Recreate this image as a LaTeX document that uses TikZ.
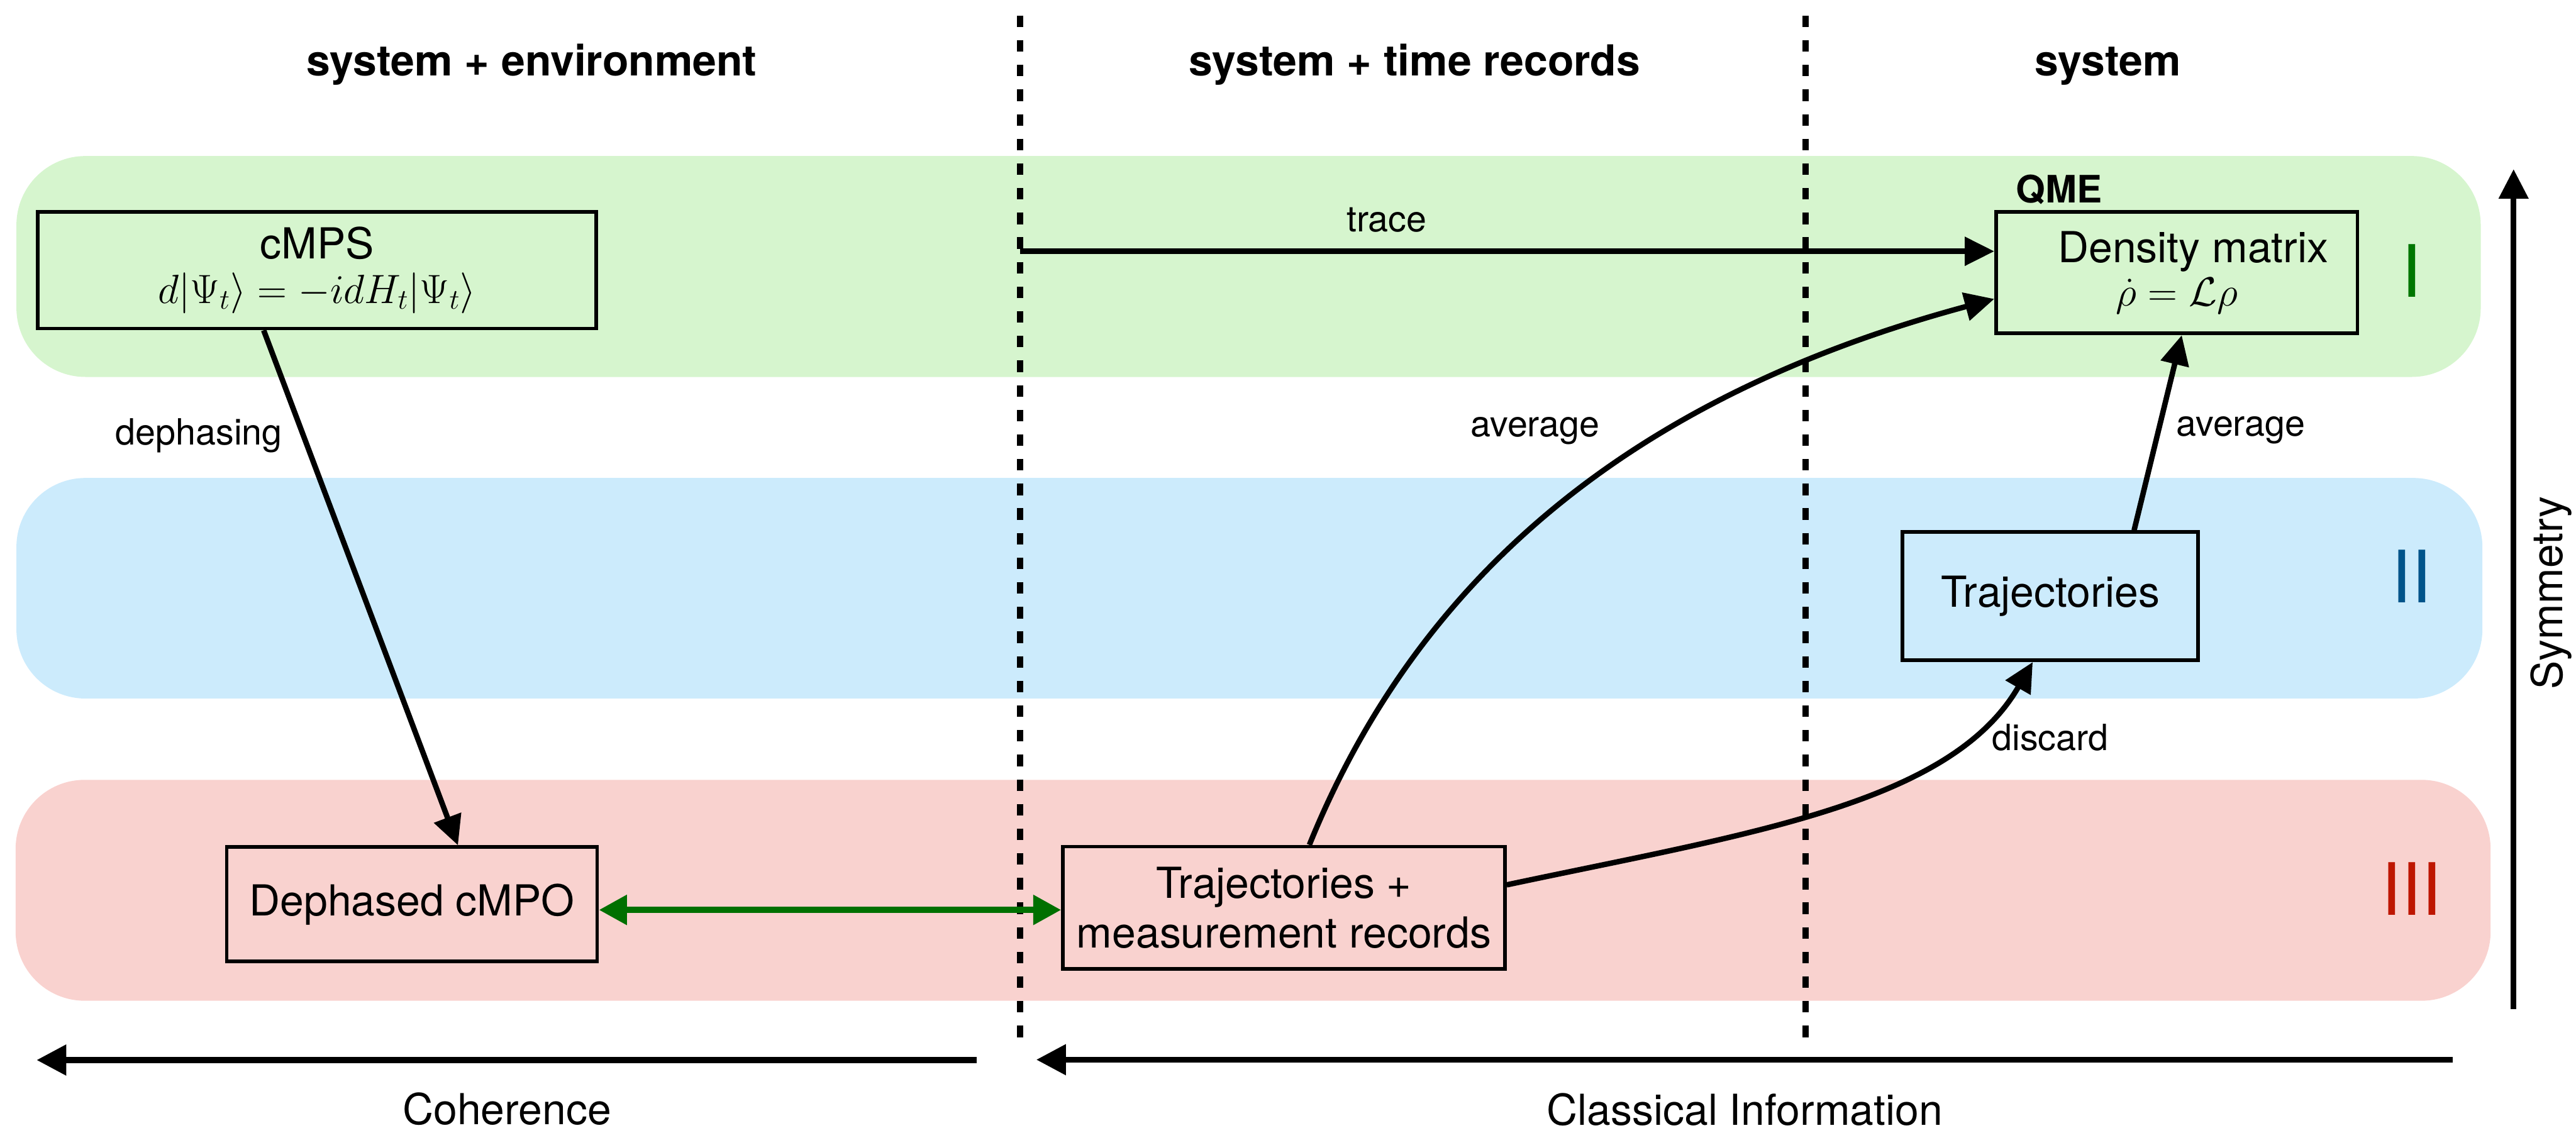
\documentclass[tikz,border=0pt]{standalone}
\usepackage[no-math]{fontspec}
\newfontfamily\hv{TeX Gyre Heros}
\usetikzlibrary{arrows.meta,calc}

\definecolor{bandgreen}{RGB}{214,245,206}
\definecolor{bandblue}{RGB}{204,235,252}
\definecolor{bandred}{RGB}{249,210,207}
\definecolor{numgreen}{RGB}{0,118,0}
\definecolor{numblue}{RGB}{0,84,138}
\definecolor{numred}{RGB}{190,22,0}
\definecolor{linkgreen}{RGB}{0,112,0}

\begin{document}
\begin{tikzpicture}[x=1pt,y=-1pt,
  band/.style={rounded corners=42pt},
  statebox/.style={draw=black,line width=2.2pt,inner sep=0pt,align=center,
    font=\hv\fontsize{26}{30}\selectfont},
  header/.style={font=\hv\bfseries\fontsize{26}{30}\selectfont,anchor=base,inner sep=0pt},
  lbl/.style={font=\hv\fontsize{22}{26}\selectfont,anchor=base,inner sep=0pt},
  axislbl/.style={font=\hv\fontsize{26}{30}\selectfont,anchor=base,inner sep=0pt},
  numeral/.style={font=\hv\fontsize{44}{50}\selectfont,inner sep=0pt},
  flow/.style={line width=3.3pt,-{Triangle[length=18pt,width=17pt]}},
  axis/.style={line width=3.6pt,-{Triangle[length=18pt,width=18pt]}},
  divider/.style={line width=3.7pt,dash pattern=on 7pt off 8pt},
  twoway/.style={line width=3.8pt,draw=linkgreen,
    {Triangle[length=17pt,width=17.5pt]}-{Triangle[length=17pt,width=17.5pt]}}
]
\useasboundingbox (0,0) rectangle (1568,689.7);

% symmetry levels
\fill[bandgreen,band] (10,95) rectangle (1510,229.5);
\fill[bandblue,band] (10,291) rectangle (1511,425.3);
\fill[bandred,band] (9.5,474.8) rectangle (1516,609.3);

% column dividers
\coordinate (d1top) at (620.8,9.5);
\coordinate (d1bot) at (620.8,633);
\coordinate (d2top) at (1099,9.5);
\coordinate (d2bot) at (1099,633);
\draw[divider] (d1top) -- (d1bot);
\draw[divider] (d2top) -- (d2bot);

% column headers
\node[header] (h1) at (323.6,46) {system + environment};
\node[header] (h2) at (861,46) {system + time records};
\node[header] (h3) at (1283,46) {system};

% descriptions
\node[statebox,minimum width=340pt,minimum height=71pt] (cmps) at (193,164.5)
  {cMPS\\[-3pt]$d|\Psi_t\rangle=-idH_t|\Psi_t\rangle$};
\node[statebox,minimum width=220pt,minimum height=74pt] (dm) at (1325,166)
  {\hspace*{20pt}Density matrix\\[-3.5pt]$\dot\rho=\mathcal{L}\rho$};
\node[font=\hv\bfseries\fontsize{23}{26}\selectfont,anchor=base west,inner sep=0pt]
  (qme) at (1227,123.5) {QME};
\node[statebox,minimum width=180pt,minimum height=78pt] (traj) at (1248,363) {Trajectories};
\node[statebox,minimum width=269pt,minimum height=74.5pt] (tm) at (781.5,552.75)
  {Trajectories +\\measurement records};
\node[statebox,minimum width=225.5pt,minimum height=69.5pt] (dc) at (250.75,550.5)
  {Dephased cMPO};

% level numerals
\node[numeral,text=numgreen] (nI) at (1468,165) {I};
\node[numeral,text=numblue] (nII) at (1468,351) {II};
\node[numeral,text=numred] (nIII) at (1468,541) {III};

% maps between descriptions
\draw[flow] ([xshift=-32.5pt]cmps.south) -- ([xshift=28pt]dc.north);
\node[lbl] (ldeph) at (121,271) {dephasing};

\coordinate (tracestart) at (620.8,153);
\draw[flow] (tracestart) -- (tracestart -| dm.west);
\node[lbl] (ltrace) at (844,140.9) {trace};

\draw[flow] ([xshift=15.5pt]tm.north) .. controls +(75,-185) and +(-193,52) .. ([yshift=-16pt]dm.west);
\node[lbl] (lavg1) at (934.5,266) {average};

\draw[flow] ([xshift=51pt]traj.north) -- ([xshift=3pt]dm.south);
\node[lbl] (lavg2) at (1364,265.6) {average};

\draw[flow] ([yshift=14pt]tm.east) .. controls +(146.7,-31.2) and +(-50,86.6) .. ([xshift=-10.7pt]traj.south);
\node[lbl] (ldisc) at (1248,456.8) {discard};

\coordinate (gl) at ([yshift=-3.5pt]dc.east);
\draw[twoway] (gl) -- (gl -| tm.west);

% axes
\coordinate (cohfrom) at (594.4,645.4);
\coordinate (cohto) at (22.3,645.4);
\draw[axis] (cohfrom) -- (cohto);
\node[axislbl] (lcoh) at (308.6,684.6) {Coherence};

\coordinate (clsfrom) at (1493,645.2);
\coordinate (clsto) at (630.8,645.2);
\draw[axis] (clsfrom) -- (clsto);
\node[axislbl] (lcls) at (1062,685) {Classical Information};

\coordinate (symfrom) at (1530,614.3);
\coordinate (symto) at (1530,103);
\draw[line width=3.4pt,-{Triangle[length=18pt,width=17.5pt]}] (symfrom) -- (symto);
\node[axislbl,rotate=90] (lsym) at (1559.7,361) {Symmetry};
\end{tikzpicture}
\end{document}
